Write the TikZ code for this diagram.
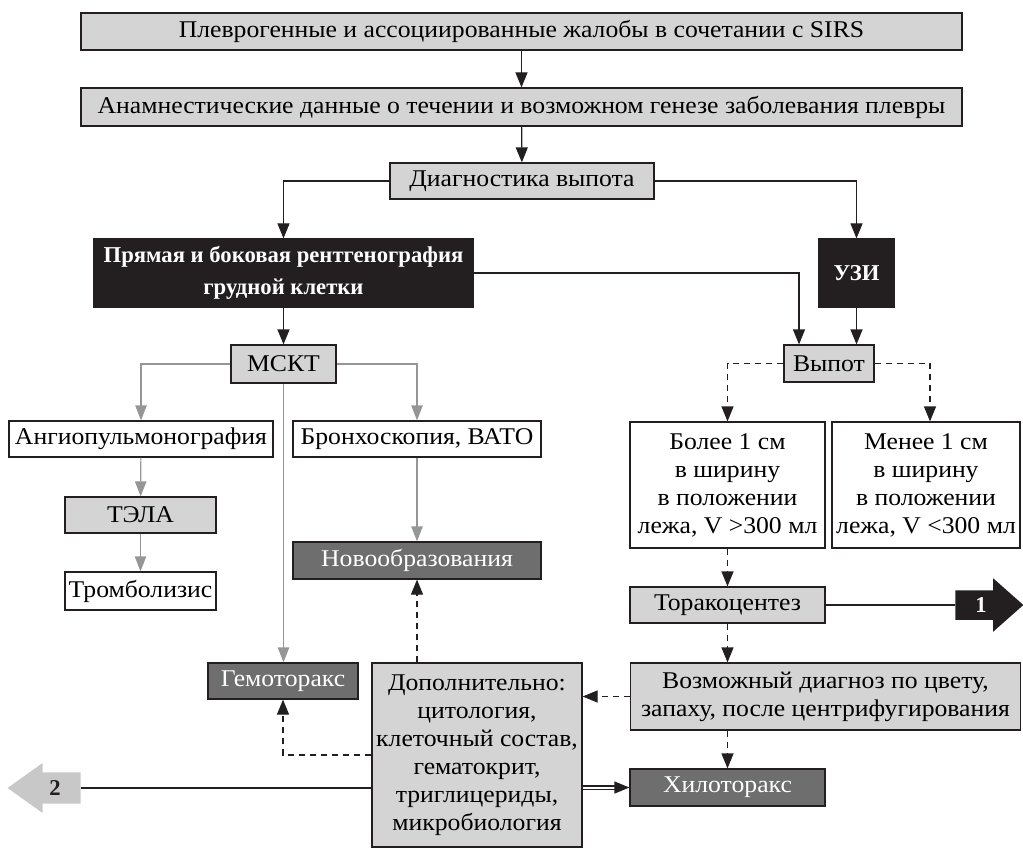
\documentclass[tikz,border=0pt]{standalone}
\usepackage{fontspec}
\setmainfont{Liberation Serif}[FakeStretch=1.07]
\newfontfamily\boldfam{Liberation Serif}
\usepackage{xcolor}
\usepackage{tikz}
\usetikzlibrary{arrows.meta,shapes.arrows,calc}
\usetikzlibrary{positioning}

\definecolor{linecol}{RGB}{35,31,32}
\definecolor{lightfill}{RGB}{212,212,212}
\definecolor{darkfill}{RGB}{110,110,110}
\definecolor{blackfill}{RGB}{35,31,32}
\definecolor{arrgray}{RGB}{150,150,150}
\definecolor{outfill}{RGB}{200,200,200}

\newcommand{\mainsize}{\fontsize{18}{21}\selectfont}
\newcommand{\boldsize}{\fontsize{17}{21}\selectfont\boldfam\bfseries}

\tikzset{
  lightbox/.style={draw=linecol, fill=lightfill, inner sep=0pt, align=center, font=\mainsize},
  whitebox/.style={draw=linecol, fill=white, inner sep=0pt, align=center, font=\mainsize},
  darkbox/.style={draw=linecol, fill=darkfill, text=white, inner sep=0pt, align=center, font=\mainsize},
  blackbox/.style={draw=linecol, fill=blackfill, text=white, inner sep=0pt, align=center, font=\boldsize},
  blackarrow/.style={draw=linecol, -{Triangle[length=11.25pt,width=9pt]}},
  grayarrow/.style={draw=arrgray, -{Triangle[length=11.25pt,width=8.5pt]}},
  dasharrow/.style={draw=linecol, dash pattern=on 4.5pt off 3.75pt, -{Triangle[length=11.25pt,width=9pt]}},
  bigarrow/.style={single arrow, inner xsep=0pt, font=\boldsize}
}

\begin{document}
\begin{tikzpicture}[x=0.75pt,y=0.75pt,yscale=-1,xscale=1, line width=0.9pt]
\useasboundingbox (0,0) rectangle (1023,848);

%Shape: Rectangle
\node[lightbox, minimum width=660.75pt, minimum height=27.75pt] (compl) at (521.5,31.5) {Плеврогенные и ассоциированные жалобы в сочетании с SIRS};
%Shape: Rectangle
\node[lightbox, minimum width=660.75pt, minimum height=28.5pt] (anamn) at (521.5,107) {Анамнестические данные о течении и возможном генезе заболевания плевры};
%Shape: Rectangle
\node[lightbox, minimum width=198pt, minimum height=27pt] (diag) at (522,181) {Диагностика выпота};
%Shape: Rectangle
\node[blackbox, minimum width=284.25pt, minimum height=51pt] (xray) at (283.5,273) {Прямая и боковая рентгенография\\[3pt] грудной клетки};
%Shape: Rectangle
\node[blackbox, minimum width=56.25pt, minimum height=51pt] (uzi) at (856.5,273) {УЗИ};
%Shape: Rectangle
\node[lightbox, minimum width=67.5pt, minimum height=27.75pt] (vypot) at (829,363.5) {Выпот};
%Shape: Rectangle
\node[lightbox, minimum width=78.75pt, minimum height=28.5pt] (mskt) at (283.5,364) {МСКТ};

%Shape: Rectangle
\node[whitebox, minimum width=198pt, minimum height=27pt] (angio) at (141,439) {Ангиопульмонография};
%Shape: Rectangle
\node[whitebox, minimum width=186pt, minimum height=27pt] (bronch) at (417,439) {Бронхоскопия, ВАТО};
%Shape: Rectangle
\node[lightbox, minimum width=113.25pt, minimum height=27pt] (tela) at (140.5,515) {ТЭЛА};
%Shape: Rectangle
\node[whitebox, minimum width=113.25pt, minimum height=28.5pt] (tromb) at (140.5,591) {Тромболизис};
%Shape: Rectangle
\node[darkbox, minimum width=186pt, minimum height=27.75pt] (neo) at (417,560.5) {Новообразования};
%Shape: Rectangle
\node[darkbox, minimum width=112.5pt, minimum height=27pt] (hemo) at (283,681) {Гемоторакс};
%Shape: Rectangle
\node[lightbox, minimum width=157.5pt, minimum height=138pt] (dop) at (477,755) {Дополнительно:\\ цитология,\\ клеточный состав,\\ гематокрит,\\ триглицериды,\\ микробиология};

%Shape: Rectangle
\node[whitebox, minimum width=146.25pt, minimum height=94.5pt] (bolee) at (727.5,485) {Более 1 см\\ в ширину\\ в положении\\ лежа, V >300 мл};
%Shape: Rectangle
\node[whitebox, minimum width=141pt, minimum height=94.5pt] (menee) at (926,485) {Менее 1 см\\ в ширину\\ в положении\\ лежа, V <300 мл};
%Shape: Rectangle
\node[lightbox, minimum width=146.25pt, minimum height=27pt] (thoraco) at (727.5,605) {Торакоцентез};
%Shape: Rectangle
\node[lightbox, minimum width=292.5pt, minimum height=50.25pt] (poss) at (825.5,696.5) {Возможный диагноз по цвету,\\ запаху, после центрифугирования};
%Shape: Rectangle
\node[darkbox, minimum width=146.25pt, minimum height=27.75pt] (chylo) at (727.5,787.5) {Хилоторакс};

%Shape: Arrows
\node[bigarrow, fill=blackfill, text=white, inner ysep=5pt, minimum height=51pt, minimum width=39.75pt, single arrow head extend=9pt, single arrow tip angle=83] (out1) at (981,605) {1};
\node[bigarrow, fill=outfill, text=linecol, inner ysep=5.6pt, shape border rotate=180, minimum height=54.75pt, minimum width=37.5pt, single arrow head extend=7.1pt, single arrow tip angle=71] (out2) at (55,788) {2};

%Straight Lines
\draw[blackarrow] (compl) -- (anamn);
\draw[blackarrow] (anamn) -- (diag);
\draw[blackarrow] (diag.west) -| (xray.north);
\draw[blackarrow] (diag.east) -| (uzi.north);
\draw[blackarrow] (xray.east) -| ([xshift=-22.5pt]vypot.north);
\draw[blackarrow] (uzi.south) -- (uzi.south |- vypot.north);
\draw[blackarrow] (xray.south) -- (mskt.north);

%Straight Lines
\draw[grayarrow] (mskt.west) -| (angio.north);
\draw[grayarrow] (mskt.east) -| (bronch.north);
\draw[grayarrow] (mskt.south) -- (mskt.south |- hemo.north);
\draw[grayarrow] (angio) -- (tela);
\draw[grayarrow] (tela) -- (tromb);
\draw[grayarrow] (bronch) -- (neo);

%Straight Lines
\draw[dasharrow] (vypot.west) -| (bolee.north);
\draw[dasharrow] (vypot.east) -| ([xshift=3pt]menee.north);
\draw[dasharrow] (bolee) -- (thoraco);
\draw[dasharrow] (thoraco.south) -- (thoraco.south |- poss.north);
\draw[dasharrow] (poss.west) -- (poss.west -| dop.east);
\draw[dasharrow] (chylo.north |- poss.south) -- (chylo.north);
\draw[dasharrow] (neo.south |- dop.north) -- (neo.south);
\draw[dasharrow] (dop.west) -| (hemo.south);

%Straight Lines
\draw[draw=linecol] (thoraco.east) -- (out1.tail);
\draw[draw=linecol] (dop.west |- out2.tail) -- (out2.tail);
\draw[draw=linecol, double, double distance=1.5pt, -{Triangle[length=11.25pt,width=9pt]}] (dop.east |- chylo.west) -- (chylo.west);

\end{tikzpicture}
\end{document}
